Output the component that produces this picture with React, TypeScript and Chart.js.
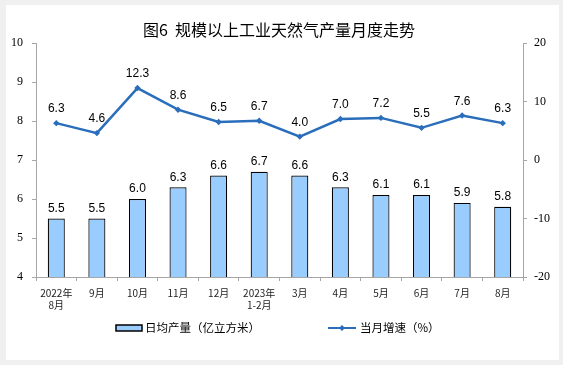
import React, { useEffect, useRef } from "react";
import { Chart, registerables } from "chart.js";

Chart.register(...registerables);

const categories: (string | string[])[] = [
  ["2022年", "8月"], "9月", "10月", "11月", "12月", ["2023年", "1-2月"],
  "3月", "4月", "5月", "6月", "7月", "8月",
];
const dailyOutput = [5.5, 5.5, 6.0, 6.3, 6.6, 6.7, 6.6, 6.3, 6.1, 6.1, 5.9, 5.8];
const monthlyGrowth = [6.3, 4.6, 12.3, 8.6, 6.5, 6.7, 4.0, 7.0, 7.2, 5.5, 7.6, 6.3];
const leftTicks = [4, 5, 6, 7, 8, 9, 10];
const rightTicks = [-20, -10, 0, 10, 20];

const TITLE = "图6  规模以上工业天然气产量月度走势";
const BAR_LEGEND = "日均产量（亿立方米）";
const LINE_LEGEND = "当月增速（%）";

const BAR_FILL = "#99ccff";
const LINE_COLOR = "#2a6ebb";
const AXIS_COLOR = "#a6a6a6";
const CJK = '"Noto Sans CJK SC", sans-serif';
const SERIF = '"Liberation Serif", "Times New Roman", serif';
const SANS = '"Liberation Sans", Arial, sans-serif';

const decor = {
  id: "decor",
  beforeDraw(chart: any) {
    const ctx = chart.ctx;
    ctx.save();
    ctx.fillStyle = "#f0f0f0";
    ctx.fillRect(0, 0, chart.width, chart.height);
    ctx.fillStyle = "#ffffff";
    ctx.fillRect(6, 5, 553, 355);
    ctx.restore();
  },
  afterDraw(chart: any) {
    const ctx = chart.ctx;
    ctx.save();
    // title
    ctx.fillStyle = "#000";
    ctx.font = `400 16px ${CJK}`;
    ctx.textAlign = "center";
    ctx.textBaseline = "middle";
    ctx.fillText(TITLE, 279, 30);

    // data labels
    ctx.font = `12px ${SANS}`;
    ctx.textBaseline = "bottom";
    const barMeta = chart.getDatasetMeta(1);
    barMeta.data.forEach((el: any, i: number) => {
      ctx.fillText(dailyOutput[i].toFixed(1), el.x, el.y - 4);
    });
    const lineMeta = chart.getDatasetMeta(0);
    lineMeta.data.forEach((el: any, i: number) => {
      ctx.fillText(monthlyGrowth[i].toFixed(1), el.x, el.y - 8);
    });

    // legend
    const ly = 328;
    ctx.fillStyle = BAR_FILL;
    ctx.fillRect(116, ly - 3, 26, 6);
    ctx.strokeStyle = "#000";
    ctx.lineWidth = 1.5;
    ctx.strokeRect(116, ly - 3, 26, 6);
    ctx.fillStyle = "#000";
    ctx.font = `11.5px ${CJK}`;
    ctx.textAlign = "left";
    ctx.textBaseline = "middle";
    ctx.fillText(BAR_LEGEND, 145, ly);

    ctx.strokeStyle = LINE_COLOR;
    ctx.lineWidth = 2;
    ctx.beginPath();
    ctx.moveTo(328, ly);
    ctx.lineTo(356, ly);
    ctx.stroke();
    ctx.fillStyle = LINE_COLOR;
    ctx.beginPath();
    ctx.moveTo(342, ly - 3);
    ctx.lineTo(345, ly);
    ctx.lineTo(342, ly + 3);
    ctx.lineTo(339, ly);
    ctx.closePath();
    ctx.fill();
    ctx.fillStyle = "#000";
    ctx.fillText(LINE_LEGEND, 360, ly);
    ctx.restore();
  },
};

export default function App() {
  const ref = useRef<HTMLCanvasElement>(null);
  useEffect(() => {
    if (!ref.current) return;
    const chart = new Chart(ref.current, {
      type: "bar",
      data: {
        labels: categories as any,
        datasets: [
          {
            type: "line",
            label: LINE_LEGEND,
            data: monthlyGrowth,
            yAxisID: "y1",
            borderColor: LINE_COLOR,
            backgroundColor: LINE_COLOR,
            borderWidth: 2.5,
            pointStyle: "rectRot",
            pointRadius: 3.2,
            pointBackgroundColor: LINE_COLOR,
            pointBorderWidth: 0,
            tension: 0,
            order: 0,
          } as any,
          {
            type: "bar",
            label: BAR_LEGEND,
            data: dailyOutput,
            yAxisID: "y",
            backgroundColor: BAR_FILL,
            borderColor: "#000",
            borderWidth: 1.2,
            categoryPercentage: 1,
            barPercentage: 0.42,
            order: 1,
          },
        ],
      },
      options: {
        responsive: false,
        animation: false,
        layout: { padding: { top: 43, left: 0, right: 0, bottom: 0 } },
        plugins: {
          legend: { display: false },
          title: { display: false },
          tooltip: { enabled: false },
        },
        scales: {
          x: {
            grid: {
              offset: true,
              drawOnChartArea: false,
              color: AXIS_COLOR,
              tickLength: 4,
            },
            border: { color: AXIS_COLOR },
            ticks: {
              color: "#222",
              font: { family: CJK, size: 10 },
              padding: 6,
              maxRotation: 0,
              autoSkip: false,
            },
            afterFit(scale: any) {
              scale.height = 88;
            },
          },
          y: {
            position: "left",
            min: 4,
            max: 10,
            afterBuildTicks(scale: any) {
              scale.ticks = leftTicks.map((v) => ({ value: v }));
            },
            grid: { drawOnChartArea: false, color: AXIS_COLOR, tickLength: 4 },
            border: { color: AXIS_COLOR },
            ticks: {
              color: "#000",
              font: { family: SERIF, size: 12 },
              padding: 9,
            },
            afterFit(scale: any) {
              scale.width = 36;
            },
          },
          y1: {
            position: "right",
            min: -20,
            max: 20,
            afterBuildTicks(scale: any) {
              scale.ticks = rightTicks.map((v) => ({ value: v }));
            },
            grid: { drawOnChartArea: false, color: AXIS_COLOR, tickLength: 4 },
            border: { color: AXIS_COLOR },
            ticks: {
              color: "#000",
              font: { family: SERIF, size: 12 },
              padding: 7,
            },
            afterFit(scale: any) {
              scale.width = 40;
            },
          },
        },
      },
      plugins: [decor],
    });
    return () => chart.destroy();
  }, []);
  return (
    <div style={{ position: "fixed", left: 0, top: 0, width: 563, height: 365 }}>
      <canvas ref={ref} width={563} height={365} style={{ display: "block" }} />
    </div>
  );
}
